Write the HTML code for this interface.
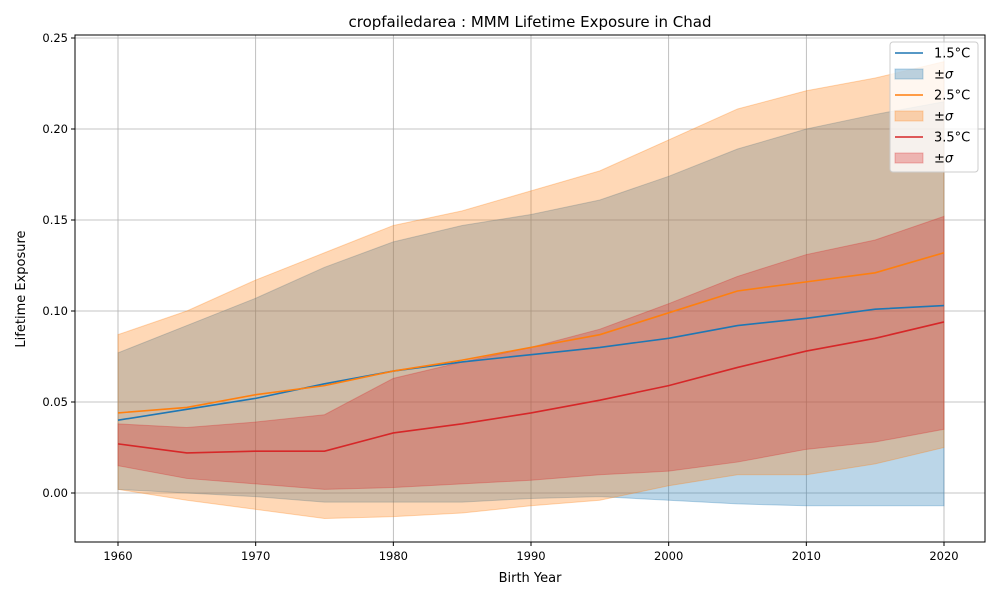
<!DOCTYPE html>
<html><head><meta charset="utf-8"><style>
body{margin:0;background:#fff;font-family:"Liberation Sans","DejaVu Sans",sans-serif}
svg text{font-family:"DejaVu Sans","Liberation Sans",sans-serif}
</style></head><body>
<svg id="chart" width="1000" height="600" viewBox="0 0 1000 600" xmlns="http://www.w3.org/2000/svg">
<rect width="1000" height="600" fill="#fff"/>
<text x="530" y="27" font-size="15" text-anchor="middle">cropfailedarea : MMM Lifetime Exposure in Chad</text>
<g id="grid"></g><g id="series"></g><g id="axes"></g>
<text x="530" y="582" font-size="13" text-anchor="middle">Birth Year</text>
<text x="25" y="289" font-size="13" text-anchor="middle" transform="rotate(-90 25 289)">Lifetime Exposure</text>
<g id="legend"></g>
</svg>
<script>
const years=[1960,1965,1970,1975,1980,1985,1990,1995,2000,2005,2010,2015,2020];
const mean15=[0.040,0.046,0.052,0.060,0.067,0.072,0.076,0.080,0.085,0.092,0.096,0.101,0.103];
const up15=[0.077,0.092,0.107,0.124,0.138,0.147,0.153,0.161,0.174,0.189,0.200,0.208,0.215];
const lo15=[0.002,0.000,-0.002,-0.005,-0.005,-0.005,-0.003,-0.002,-0.004,-0.006,-0.007,-0.007,-0.007];
const mean25=[0.044,0.047,0.054,0.059,0.067,0.073,0.080,0.087,0.099,0.111,0.116,0.121,0.132];
const up25=[0.087,0.100,0.117,0.132,0.147,0.155,0.166,0.177,0.194,0.211,0.221,0.228,0.237];
const lo25=[0.002,-0.004,-0.009,-0.014,-0.013,-0.011,-0.007,-0.004,0.004,0.010,0.010,0.016,0.025];
const mean35=[0.027,0.022,0.023,0.023,0.033,0.038,0.044,0.051,0.059,0.069,0.078,0.085,0.094];
const up35=[0.038,0.036,0.039,0.043,0.063,0.072,0.080,0.090,0.104,0.119,0.131,0.139,0.152];
const lo35=[0.015,0.008,0.005,0.002,0.003,0.005,0.007,0.010,0.012,0.017,0.024,0.028,0.035];
const xTicks=[1960,1970,1980,1990,2000,2010,2020];
const yTicks=[0,0.05,0.10,0.15,0.20,0.25];
const yTickLabels=["0.00","0.05","0.10","0.15","0.20","0.25"];

const L=75,R=985,T=35,B=542;
const X=v=>118+(v-1960)*(826/60);
const Y=v=>493-v*(455/0.25);
const NS="http://www.w3.org/2000/svg";
function mk(tag,attrs,parent){const e=document.createElementNS(NS,tag);for(const k in attrs)e.setAttribute(k,attrs[k]);parent.appendChild(e);return e;}
const grid=document.getElementById('grid'),ser=document.getElementById('series'),ax=document.getElementById('axes'),lg=document.getElementById('legend');
xTicks.forEach(t=>{
 const g=mk('line',{x1:X(t),x2:X(t),y1:T,y2:B,stroke:'#b0b0b0','stroke-width':0.8},grid);
 
 
 mk('line',{x1:X(t),x2:X(t),y1:B,y2:B+4,stroke:'#000'},ax);
 const tx=mk('text',{x:X(t),y:B+18,'font-size':11.5,'text-anchor':'middle'},ax);tx.textContent=t;
 
 
});
yTicks.forEach((t,i)=>{
 const g=mk('line',{x1:L,x2:R,y1:Y(t),y2:Y(t),stroke:'#b0b0b0','stroke-width':0.8},grid);
 
 
 mk('line',{x1:L-4,x2:L,y1:Y(t),y2:Y(t),stroke:'#000'},ax);
 const tx=mk('text',{x:L-7,y:Y(t)+4,'font-size':11.5,'text-anchor':'end'},ax);tx.textContent=yTickLabels[i];
 
 
});
const fr=mk('rect',{x:L,y:T,width:R-L,height:B-T,fill:'none',stroke:'#000','stroke-width':1},ax);


function band(up,lo,col,name){
 let d='M'+years.map((y,i)=>X(y)+','+Y(up[i])).join('L');
 d+='L'+years.map((y,i)=>[X(y),Y(lo[i])]).reverse().map(p=>p.join(',')).join('L')+'Z';
 const p=mk('path',{d:d,fill:col,'fill-opacity':0.3,stroke:col,'stroke-opacity':0.3},ser);
 
 
}
function line(m,col,name){
 const p=mk('polyline',{points:years.map((y,i)=>X(y)+','+Y(m[i])).join(' '),fill:'none',stroke:col,'stroke-width':1.6},ser);
 
 
}
band(up15,lo15,'#1f77b4','band-1-5c');
band(up25,lo25,'#ff7f0e','band-2-5c');
band(up35,lo35,'#d62728','band-3-5c');
line(mean15,'#1f77b4','line-1-5c');
line(mean25,'#ff7f0e','line-2-5c');
line(mean35,'#d62728','line-3-5c');
// legend
mk('rect',{x:890,y:42,width:88,height:130,rx:3,fill:'#fff','fill-opacity':0.8,stroke:'#ccc'},lg);
const items=[['line','#1f77b4','1.5°C'],['patch','#1f77b4','±σ'],['line','#ff7f0e','2.5°C'],['patch','#ff7f0e','±σ'],['line','#d62728','3.5°C'],['patch','#d62728','±σ']];
items.forEach((it,i)=>{
 const y=53+i*21;
 const g=mk('g',{},lg);
 
 
 if(it[0]==='line')mk('line',{x1:895,x2:923,y1:y,y2:y,stroke:it[1],'stroke-width':1.6},g);
 else mk('rect',{x:895,y:y-5,width:28,height:10,fill:it[1],'fill-opacity':0.3,stroke:it[1],'stroke-opacity':0.3},g);
 const t=mk('text',{x:934,y:y+4.5,'font-size':13,'font-style':it[0]==='patch'?'italic':'normal'},g);t.textContent=it[2];
});
</script>
</body></html>
